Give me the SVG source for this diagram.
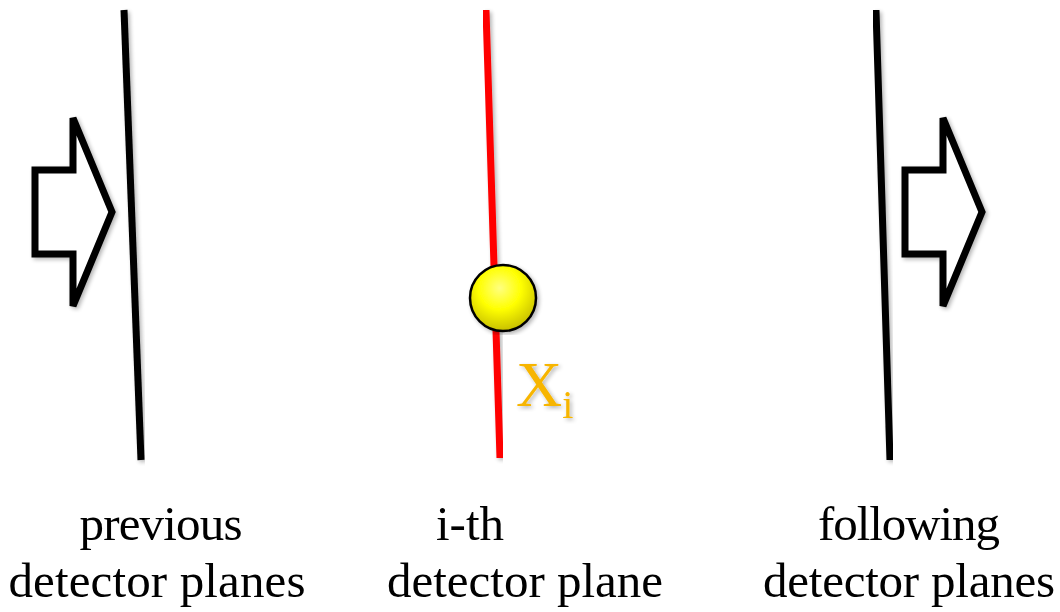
<svg xmlns="http://www.w3.org/2000/svg" width="1060" height="612" viewBox="0 0 1060 612">
<style>
.plane{stroke:#000;stroke-width:7;fill:none}
.red{stroke:#ff0000;stroke-width:7;fill:none}
.arrow{fill:#fff;stroke:#000;stroke-width:7;stroke-linejoin:miter}
.lbl{font-family:"Liberation Serif",serif;font-size:49px;fill:#000;text-anchor:middle}
.xi{font-family:"Liberation Serif",serif;fill:#f7b500}
</style>
<defs>
<filter id="sh" x="-20%" y="-5%" width="140%" height="110%">
<feGaussianBlur in="SourceAlpha" stdDeviation="2"/>
<feOffset dx="2" dy="2"/>
<feComponentTransfer><feFuncA type="linear" slope="0.3"/></feComponentTransfer>
<feMerge><feMergeNode/><feMergeNode in="SourceGraphic"/></feMerge>
</filter>
<radialGradient id="ball" cx="45%" cy="35%" r="65%">
<stop offset="0" stop-color="#ffff80"/>
<stop offset="0.5" stop-color="#ffff00"/>
<stop offset="1" stop-color="#c8c000"/>
</radialGradient>
</defs>
<g id="connectors">
<line class="plane" x1="124" y1="10" x2="141" y2="460" filter="url(#sh)"/>
<line class="red" x1="486" y1="10" x2="500" y2="458" filter="url(#sh)"/>
<line class="plane" x1="876" y1="10" x2="890" y2="460" filter="url(#sh)"/>
</g>
<g id="arrow-left">
<path class="arrow" d="M35,170 L73,170 L73,118 L112,212 L73,306 L73,254 L35,254 Z" filter="url(#sh)"/>
</g>
<g id="arrow-right">
<path class="arrow" d="M905,170 L943,170 L943,118 L982,212 L943,306 L943,254 L905,254 Z" filter="url(#sh)"/>
</g>
<g id="hit">
<circle cx="503" cy="298" r="33" fill="url(#ball)" stroke="#000" stroke-width="2.5" filter="url(#sh)"/>
<text class="xi" x="516" y="406" font-size="64" filter="url(#sh)">X<tspan font-size="40" dy="12">i</tspan></text>
</g>
<g id="label-prev">
<text class="lbl" x="161" y="540" textLength="163">previous</text>
<text class="lbl" x="157" y="597" textLength="297">detector planes</text>
</g>
<g id="label-ith">
<text class="lbl" x="470" y="540">i-th</text>
<text class="lbl" x="525" y="597" textLength="276">detector plane</text>
</g>
<g id="label-next">
<text class="lbl" x="909" y="540" textLength="182">following</text>
<text class="lbl" x="909" y="597" textLength="292">detector planes</text>
</g>
</svg>
